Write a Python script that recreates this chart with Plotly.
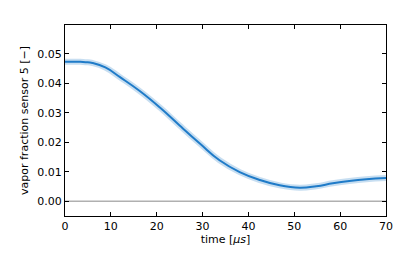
import plotly.graph_objects as go

time_us = [0, 3, 4.5, 6, 8.8, 12, 16.3, 20.7, 25.0, 29.4, 33.7, 38.1, 42.5, 46.8, 51.2, 54.8, 58.4, 62.0, 65.7, 70]
vapor = [0.0473, 0.0473, 0.0472, 0.0469, 0.0454, 0.0421, 0.0374, 0.0318, 0.0257, 0.0196, 0.0139, 0.0099, 0.0072, 0.0054, 0.0046, 0.0051, 0.0061, 0.0069, 0.0075, 0.0079]
y_ticks = [0.00, 0.01, 0.02, 0.03, 0.04, 0.05]
x_ticks = [0, 10, 20, 30, 40, 50, 60, 70]

fig = go.Figure()
fig.add_hline(y=0, line=dict(color="#b0b0b0", width=1.5), layer="below")
fig.add_trace(go.Scatter(x=time_us, y=vapor, mode="lines",
                         line=dict(color="rgba(31,123,200,0.25)", width=6, shape="spline", smoothing=1.3),
                         hoverinfo="skip", showlegend=False))
fig.add_trace(go.Scatter(x=time_us, y=vapor, mode="lines",
                         line=dict(color="#1f7bc8", width=2, shape="spline", smoothing=1.3),
                         showlegend=False))

axis_common = dict(showline=True, linecolor="black", linewidth=1, mirror="ticks",
                   ticks="inside", ticklen=4, tickcolor="black", showgrid=False, zeroline=False,
                   automargin=False,
                   tickfont=dict(family="DejaVu Sans", size=11, color="black"))
fig.update_xaxes(range=[0, 70], tickvals=x_ticks, ticktext=[str(v) for v in x_ticks],
                 title=dict(text="time [<i>μs</i>]", font=dict(family="DejaVu Sans", size=11, color="black"), standoff=2),
                 **axis_common)
fig.update_yaxes(range=[-0.005, 0.0598], tickvals=y_ticks, ticktext=[f"{v:.2f}" for v in y_ticks],
                 title=dict(text="vapor fraction sensor 5 [−]", font=dict(family="DejaVu Sans", size=11, color="black"), standoff=6),
                 **axis_common)
# the page body has an 8px default margin, so compensate in the figure margins
fig.update_layout(width=407, height=255, margin=dict(l=57, r=29, t=17, b=47),
                  paper_bgcolor="white", plot_bgcolor="white")
fig.write_html("out.html")
